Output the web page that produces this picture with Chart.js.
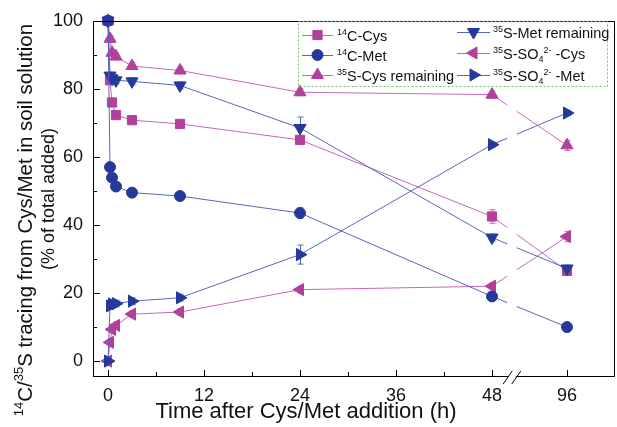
<!DOCTYPE html>
<html>
<head>
<meta charset="utf-8">
<script src="https://cdn.jsdelivr.net/npm/chart.js@4.4.0/dist/chart.umd.min.js"></script>
<style>
  html, body { margin: 0; padding: 0; background: #fff; }
</style>
</head>
<body>
<canvas id="tracing" width="617" height="427"></canvas>
<script>
// sampling times (h) and axis ticks
const hours = [0, 0.25, 0.5, 1, 3, 9, 24, 48, 96];
const xTickHours = [0, 12, 24, 36, 48, 96];
const xMinorHours = [6, 18, 30, 42];
const yTickValues = [0, 20, 40, 60, 80, 100];
const yMinorValues = [10, 30, 50, 70, 90];

// % of total added
const c14Cys = [100, 82.5, 76, 72.3, 70.8, 69.7, 65, 42.5, 26.5];
const c14Met = [100, 57, 53.9, 51.3, 49.5, 48.5, 43.5, 19, 10];
const s35CysRemaining = [100, 94.7, 90.6, 89.5, 86.7, 85.4, 79, 78.3, 63.4];
const s35MetRemaining = [100, 83.9, 83.1, 82.5, 82.2, 81, 68.5, 36.3, 27.2];
const s35SO4Cys = [0, 5.5, 9.3, 10.5, 13.8, 14.4, 21, 22, 36.6];
const s35SO4Met = [0, 16.2, 16.8, 16.9, 17.6, 18.6, 31.3, 63.6, 72.9];

// standard errors (only a few are larger than the markers)
const c14CysErr = [0, 0.8, 0.8, 0.8, 0.8, 0.8, 1, 2, 1];
const c14MetErr = [0, 0.8, 0.8, 0.8, 0.8, 0.8, 1.5, 1, 0.5];
const s35CysErr = [0, 1, 1, 1, 1, 1, 1, 1, 1.5];
const s35MetErr = [0, 1, 1, 1, 1, 1, 3.2, 1, 1];
const s35SO4CysErr = [0, 1, 1, 1, 1, 1, 1, 1, 1.5];
const s35SO4MetErr = [0, 1, 1, 1, 1, 1, 2.8, 0.8, 0.8];

const MAGENTA = '#b2409a';
const MAGENTA_LINE = '#c766b8';
const BLUE = '#25399a';
const BLUE_LINE = '#5565c2';
const FONT = '"Liberation Sans", Arial, sans-serif';

// axis is broken after 48 h: 48..96 is squeezed
function breakX(h) {
  return h <= 48 ? h : 48 + (h - 48) * 9.375 / 48;
}
const GAP_FROM = 49.9, GAP_TO = 51.1;

function toPoints(vals) {
  return hours.map((h, i) => ({ x: breakX(h), y: vals[i] }));
}

function gapDash(ctx) {
  if (ctx.p1.parsed.x <= 48) return undefined;
  const sx = ctx.chart.scales.x;
  const a = sx.getPixelForValue(GAP_FROM), b = sx.getPixelForValue(GAP_TO);
  const dx = ctx.p1.x - ctx.p0.x;
  const L = Math.hypot(dx, ctx.p1.y - ctx.p0.y);
  const f1 = (a - ctx.p0.x) / dx, f2 = (b - ctx.p0.x) / dx;
  return [L * f1, L * (f2 - f1), L * 2];
}

function series(label, vals, errs, marker, line, style, rotation, radius, order) {
  return {
    label: label,
    data: toPoints(vals),
    errs: errs,
    borderColor: line,
    backgroundColor: marker,
    borderWidth: 1,
    pointStyle: style,
    rotation: rotation,
    pointRadius: radius,
    pointBackgroundColor: marker,
    pointBorderColor: marker,
    pointBorderWidth: 1,
    tension: 0,
    clip: false,
    order: order,
    segment: { borderDash: gapDash }
  };
}

const datasets = [
  series('14C-Cys', c14Cys, c14CysErr, MAGENTA, MAGENTA_LINE, 'rect', 0, 6.5, 1),
  series('14C-Met', c14Met, c14MetErr, BLUE, BLUE_LINE, 'circle', 0, 5.5, 0),
  series('35S-Cys remaining', s35CysRemaining, s35CysErr, MAGENTA, MAGENTA_LINE, 'triangle', 0, 7, 1),
  series('35S-Met remaining', s35MetRemaining, s35MetErr, BLUE, BLUE_LINE, 'triangle', 180, 7, 0),
  series('35S-SO4 2- -Cys', s35SO4Cys, s35SO4CysErr, MAGENTA, MAGENTA_LINE, 'triangle', -90, 7, 1),
  series('35S-SO4 2- -Met', s35SO4Met, s35SO4MetErr, BLUE, BLUE_LINE, 'triangle', 90, 7, 0)
];

// legend text pieces: [text, 'sup' | 'sub' | '']
const legendParts = [
  [['14', 'sup'], ['C-Cys', '']],
  [['14', 'sup'], ['C-Met', '']],
  [['35', 'sup'], ['S-Cys remaining', '']],
  [['35', 'sup'], ['S-Met remaining', '']],
  [['35', 'sup'], ['S-SO', ''], ['4', 'sub'], ['2-', 'sup'], [' -Cys', '']],
  [['35', 'sup'], ['S-SO', ''], ['4', 'sub'], ['2-', 'sup'], [' -Met', '']]
];
const yTitleParts = [['14', 'sup'], ['C/', ''], ['35', 'sup'], ['S tracing from Cys/Met in soil solution', '']];
const yTitle2 = '(% of total added)';
const xTitle = 'Time after Cys/Met addition (h)';

function richWidth(ctx, parts, size) {
  let w = 0;
  parts.forEach(([t, k]) => {
    ctx.font = (k ? Math.round(size * 0.62) : size) + 'px ' + FONT;
    w += ctx.measureText(t).width;
  });
  return w;
}

function drawRich(ctx, parts, x, y, size) {
  ctx.textAlign = 'left';
  ctx.textBaseline = 'alphabetic';
  let cx = x;
  parts.forEach(([t, k]) => {
    const s = k ? Math.round(size * 0.62) : size;
    ctx.font = s + 'px ' + FONT;
    let dy = 0;
    if (k === 'sup') dy = -size * 0.42;
    if (k === 'sub') dy = size * 0.22;
    ctx.fillText(t, cx, y + dy);
    cx += ctx.measureText(t).width;
  });
  return cx;
}

const decor = {
  id: 'decor',
  beforeDatasetsDraw(chart) {
    const { ctx, scales: { x, y } } = chart;
    ctx.save();
    // error bars under markers
    chart.data.datasets.forEach((ds) => {
      ctx.strokeStyle = ds.borderColor;
      ctx.lineWidth = 1;
      ds.data.forEach((p, i) => {
        const e = ds.errs[i];
        if (!e) return;
        const px = Math.round(x.getPixelForValue(p.x)) + 0.5;
        const top = y.getPixelForValue(p.y + e), bot = y.getPixelForValue(p.y - e);
        ctx.beginPath();
        ctx.moveTo(px, top); ctx.lineTo(px, bot);
        ctx.moveTo(px - 3, top); ctx.lineTo(px + 3, top);
        ctx.moveTo(px - 3, bot); ctx.lineTo(px + 3, bot);
        ctx.stroke();
      });
    });
    ctx.restore();
  },
  afterDraw(chart) {
    const { ctx, chartArea: a, scales: { x, y } } = chart;
    ctx.save();
    // frame
    ctx.strokeStyle = '#000';
    ctx.lineWidth = 1;
    ctx.strokeRect(Math.round(a.left) + 0.5, Math.round(a.top) + 0.5,
      Math.round(a.right - a.left) - 1, Math.round(a.bottom - a.top) - 1);
    // inward ticks
    ctx.beginPath();
    yTickValues.forEach(v => {
      const py = Math.round(y.getPixelForValue(v)) + 0.5;
      ctx.moveTo(a.left, py); ctx.lineTo(a.left + 7, py);
    });
    yMinorValues.forEach(v => {
      const py = Math.round(y.getPixelForValue(v)) + 0.5;
      ctx.moveTo(a.left, py); ctx.lineTo(a.left + 4, py);
    });
    xTickHours.forEach(h => {
      const px = Math.round(x.getPixelForValue(breakX(h))) + 0.5;
      ctx.moveTo(px, a.bottom); ctx.lineTo(px, a.bottom - 7);
    });
    xMinorHours.forEach(h => {
      const px = Math.round(x.getPixelForValue(h)) + 0.5;
      ctx.moveTo(px, a.bottom); ctx.lineTo(px, a.bottom - 5);
    });
    ctx.stroke();
    // axis break
    const b1 = x.getPixelForValue(GAP_FROM) + 1, b2 = x.getPixelForValue(GAP_TO) - 1;
    ctx.fillStyle = '#fff';
    ctx.fillRect(b1, a.bottom - 3, b2 - b1, 5);
    ctx.beginPath();
    ctx.moveTo(b1 - 5, a.bottom + 7); ctx.lineTo(b1 + 4, a.bottom - 6);
    ctx.moveTo(b2 - 4, a.bottom + 7); ctx.lineTo(b2 + 5, a.bottom - 6);
    ctx.stroke();

    // legend box
    ctx.strokeStyle = '#6cc46c';
    ctx.setLineDash([2, 2]);
    ctx.strokeRect(298.5, 21.5, 309, 65);
    ctx.setLineDash([]);
    const cols = [{ l: 302, r: 333, t: 337 }, { l: 457, r: 490, t: 493 }];
    const rows = [[35, 55, 75], [32, 53, 75]];
    chart.data.datasets.forEach((ds, i) => {
      const c = cols[i < 3 ? 0 : 1];
      const ry = rows[i < 3 ? 0 : 1][i % 3];
      ctx.strokeStyle = ds.borderColor;
      ctx.lineWidth = 1;
      ctx.beginPath();
      ctx.moveTo(c.l, ry + 0.5); ctx.lineTo(c.r, ry + 0.5);
      ctx.stroke();
      ctx.fillStyle = ds.backgroundColor;
      ctx.strokeStyle = ds.backgroundColor;
      Chart.helpers.drawPoint(ctx, {
        pointStyle: ds.pointStyle, rotation: ds.rotation,
        radius: ds.pointRadius, borderWidth: 1
      }, (c.l + c.r) / 2, ry);
      ctx.fillStyle = '#111';
      drawRich(ctx, legendParts[i], c.t, ry + 6, 14.5);
    });

    // axis titles
    ctx.fillStyle = '#111';
    ctx.font = '22px ' + FONT;
    ctx.textAlign = 'center';
    ctx.textBaseline = 'alphabetic';
    ctx.fillText(xTitle, 306, 418);
    ctx.save();
    ctx.translate(32, 220);
    ctx.rotate(-Math.PI / 2);
    const w = richWidth(ctx, yTitleParts, 20.5);
    drawRich(ctx, yTitleParts, -w / 2, 0, 20.5);
    ctx.restore();
    ctx.save();
    ctx.translate(54, 199);
    ctx.rotate(-Math.PI / 2);
    ctx.font = '18px ' + FONT;
    ctx.textAlign = 'center';
    ctx.fillText(yTitle2, 0, 0);
    ctx.restore();
    ctx.restore();
  }
};

new Chart(document.getElementById('tracing'), {
  type: 'line',
  data: { datasets: datasets },
  plugins: [decor],
  options: {
    responsive: false,
    animation: false,
    layout: { autoPadding: false, padding: { top: 19, right: 2, left: 0, bottom: 0 } },
    plugins: { legend: { display: false }, tooltip: { enabled: false } },
    scales: {
      x: {
        type: 'linear',
        min: -1.875,
        max: 63.375,
        afterBuildTicks: (s) => { s.ticks = xTickHours.map(h => ({ value: breakX(h) })); },
        afterFit: (s) => { s.height = 50; },
        grid: { display: false, drawTicks: false },
        border: { display: false },
        ticks: {
          padding: 8,
          color: '#111',
          font: { family: FONT, size: 18 },
          callback: (v, i) => String(xTickHours[i])
        }
      },
      y: {
        min: -4.68,
        max: 100,
        afterBuildTicks: (s) => { s.ticks = yTickValues.map(v => ({ value: v })); },
        afterFit: (s) => { s.width = 93; },
        grid: { display: false, drawTicks: false },
        border: { display: false },
        ticks: {
          padding: 10,
          color: '#111',
          font: { family: FONT, size: 18 },
          callback: (v) => String(v)
        }
      }
    }
  }
});
</script>
</body>
</html>
